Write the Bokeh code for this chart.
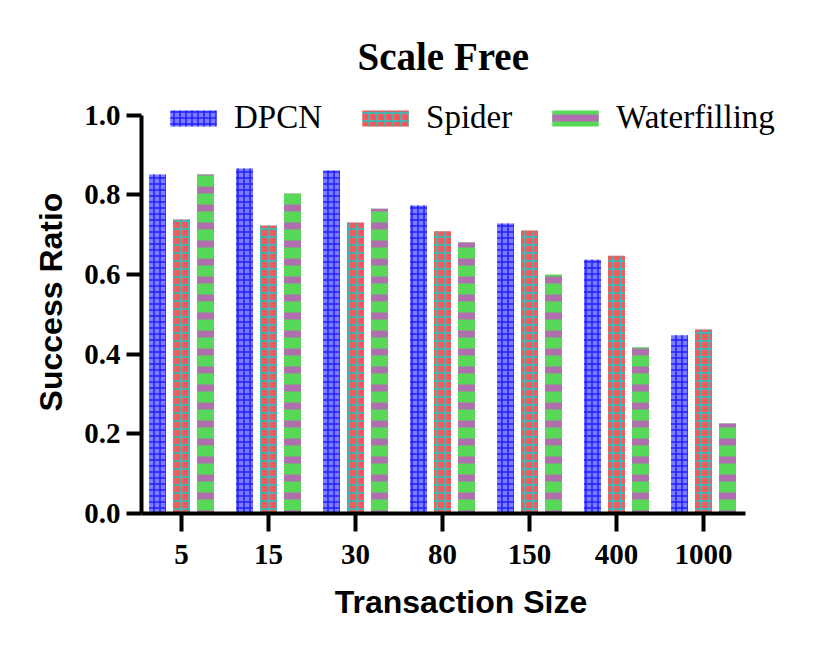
from bokeh.plotting import figure
from bokeh.models import Range1d, FixedTicker, PrintfTickFormatter, Legend, LegendItem, ColumnDataSource
from bokeh.transform import dodge
from bokeh.embed import file_html
from bokeh.resources import INLINE

categories = ["5", "15", "30", "80", "150", "400", "1000"]
dpcn = [0.851, 0.866, 0.861, 0.773, 0.728, 0.637, 0.447]
spider = [0.738, 0.723, 0.730, 0.708, 0.710, 0.647, 0.462]
waterfilling = [0.851, 0.803, 0.765, 0.680, 0.600, 0.417, 0.226]
y_ticks = [0.0, 0.2, 0.4, 0.6, 0.8, 1.0]

pos = list(range(len(categories)))
src = ColumnDataSource(dict(pos=pos, dpcn=dpcn, spider=spider, water=waterfilling))

p = figure(width=815, height=634, x_range=Range1d(-0.46, 6.885),
           y_range=Range1d(0, 1.0615), output_backend="svg", toolbar_location=None,
           min_border_left=141, min_border_right=35, min_border_top=90, min_border_bottom=121)

p.title.text = "Scale Free"
p.title.align = "left"
p.title.offset = 216
p.title.text_font = "Liberation Serif"
p.title.text_font_size = "39px"
p.title.text_font_style = "bold"
p.title.text_color = "black"
p.title.standoff = 25

bw = 0.195
off = 0.276
r1 = p.vbar(x=dodge("pos", -off), top="dpcn", width=bw, source=src,
            fill_color="#7c7cff", line_color=None, hatch_pattern="cross",
            hatch_color="#2020ff", hatch_scale=6, hatch_weight=1.5)
r2 = p.vbar(x=dodge("pos", 0), top="spider", width=bw, source=src,
            fill_color="#f45858", line_color=None, hatch_pattern="cross",
            hatch_color="#4cb0b0", hatch_scale=8, hatch_weight=2.2)
r3 = p.vbar(x=dodge("pos", off), top="water", width=bw, source=src,
            fill_color="#58d858", line_color=None, hatch_pattern="horizontal_line",
            hatch_color="#b070b0", hatch_scale=18, hatch_weight=7)

legend = Legend(items=[LegendItem(label="DPCN", renderers=[r1]),
                       LegendItem(label="Spider", renderers=[r2]),
                       LegendItem(label="Waterfilling", renderers=[r3])],
                orientation="horizontal", location=(23, 377), padding=0, margin=0,
                spacing=34, label_standoff=12, glyph_width=58, glyph_height=20,
                label_text_font="Liberation Serif", label_text_font_size="33px",
                label_text_color="black",
                background_fill_alpha=0, border_line_color=None)
p.add_layout(legend)

p.xgrid.grid_line_color = None
p.ygrid.grid_line_color = None
p.outline_line_color = None

ya = p.yaxis[0]
ya.bounds = (0, 1)
ya.ticker = FixedTicker(ticks=y_ticks)
ya.formatter = PrintfTickFormatter(format="%.1f")
ya.axis_line_width = 4
ya.axis_line_color = "black"
ya.major_tick_line_width = 4
ya.major_tick_line_color = "black"
ya.major_tick_out = 15
ya.major_tick_in = 0
ya.minor_tick_line_color = None
ya.major_label_text_font = "Liberation Serif"
ya.major_label_text_font_style = "bold"
ya.major_label_text_font_size = "29px"
ya.major_label_text_color = "black"
ya.major_label_standoff = 6
ya.axis_label = "Success Ratio"
ya.axis_label_text_font = "Liberation Sans"
ya.axis_label_text_font_style = "bold"
ya.axis_label_text_font_size = "32px"
ya.axis_label_text_color = "black"
ya.axis_label_standoff = 12

xa = p.xaxis[0]
xa.bounds = (-0.46, 6.48)
xa.ticker = FixedTicker(ticks=pos)
xa.major_label_overrides = {i: c for i, c in enumerate(categories)}
xa.axis_line_width = 4
xa.axis_line_color = "black"
xa.major_tick_line_width = 4
xa.major_tick_line_color = "black"
xa.major_tick_out = 18
xa.major_tick_in = 0
xa.minor_tick_line_color = None
xa.major_label_text_font = "Liberation Serif"
xa.major_label_text_font_style = "bold"
xa.major_label_text_font_size = "29px"
xa.major_label_text_color = "black"
xa.major_label_standoff = 13
xa.axis_label = "Transaction Size"
xa.axis_label_text_font = "Liberation Sans"
xa.axis_label_text_font_style = "bold"
xa.axis_label_text_font_size = "32px"
xa.axis_label_text_color = "black"
xa.axis_label_standoff = 17

open("out.html", "w").write(file_html(p, INLINE))
